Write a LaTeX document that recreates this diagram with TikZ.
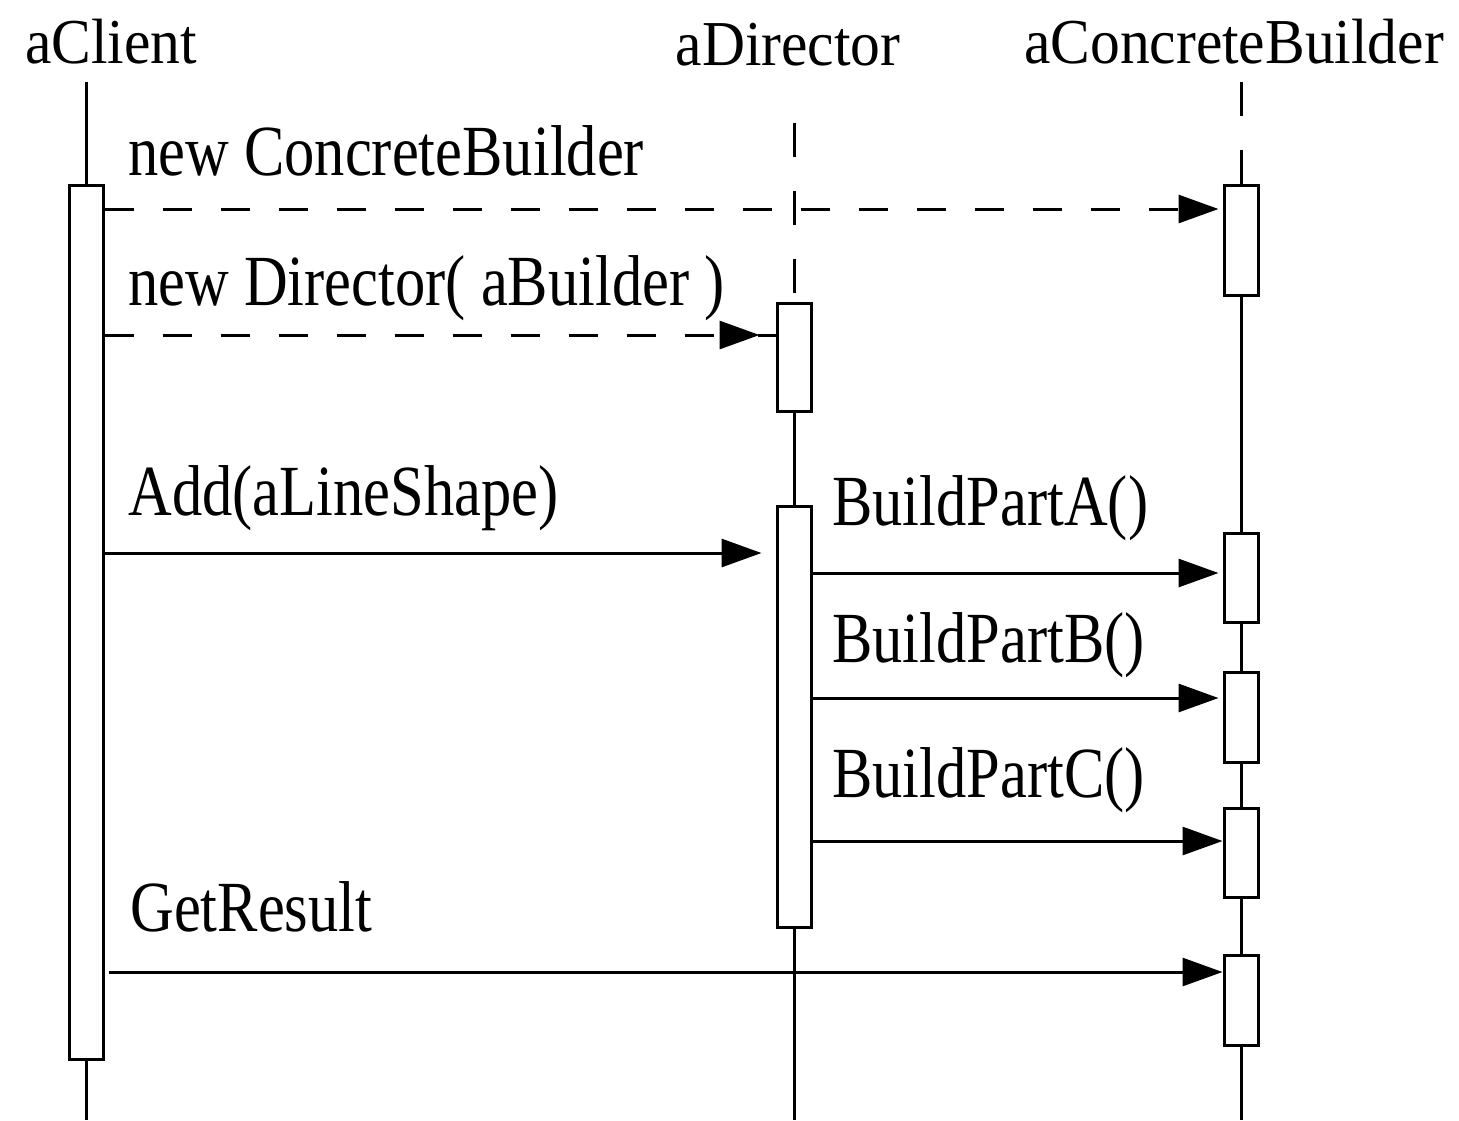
\documentclass[tikz,border=0pt]{standalone}
\usepackage{fontspec}
\setmainfont{Liberation Serif}
\newfontfamily\headfont{Liberation Serif}[FakeStretch=0.93]
\newfontfamily\msgfont{Liberation Serif}[FakeStretch=0.84]
\usepackage{tikz}
\usetikzlibrary{arrows.meta}
\tikzset{
  objname/.style = {inner sep=0pt, anchor=base,
    font=\headfont\fontsize{32pt}{36pt}\selectfont},        % object heading
  msgtext/.style = {inner sep=0pt, anchor=base west,
    font=\msgfont\fontsize{36pt}{40pt}\selectfont},         % message label
  lifeline/.style = {line width=1.5pt},
  lifedash/.style = {lifeline, dash pattern=on 17pt off 17pt},
  actbox/.style = {draw, fill=white, line width=1.5pt, rectangle,
    minimum width=17pt, inner sep=0pt},                     % activation bar
  call/.style = {line width=1.5pt, -{Triangle[length=20pt,width=14pt]}},
  calldash/.style = {call, dash pattern=on 14.5pt off 14.5pt}
}

\begin{document}
\begin{tikzpicture}[x=0.5pt,y=-0.5pt]
  \useasboundingbox (0,0) rectangle (1459,1120);

  % objects
  \node [objname] (client)  at (111,63)  {aClient};
  \node [objname] (director) at (788,65) {aDirector};
  \node [objname] (builder) at (1234,63) {aConcreteBuilder};

  \coordinate (clTop)  at (86,82);
  \coordinate (clEnd)  at (86,1120);
  \coordinate (dirTop) at (794,123);
  \coordinate (dirEnd) at (794,1120);
  \coordinate (cbTop)  at (1241,82);
  \coordinate (cbEnd)  at (1241,1120);

  % lifelines
  \draw [lifeline] (clTop) -- (clEnd);
  \draw [lifedash] (dirTop) -- (794,303);
  \draw [lifeline] (794,411) -- (dirEnd);
  \draw [lifedash] (cbTop) -- (1241,185);
  \draw [lifeline] (1241,295) -- (cbEnd);

  % activation bars
  \node [actbox, minimum height=437pt]   (clAct)   at (86,622)    {};
  \node [actbox, minimum height=54pt]    (dirAct1) at (794,357)   {};
  \node [actbox, minimum height=210.5pt] (dirAct2) at (794,716.5) {};
  \node [actbox, minimum height=55pt]    (cbAct1)  at (1241,240)  {};
  \node [actbox, minimum height=44.5pt]  (cbAct2)  at (1241,577.5) {};
  \node [actbox, minimum height=45pt]    (cbAct3)  at (1241,717)  {};
  \node [actbox, minimum height=44.5pt]  (cbAct4)  at (1241,852.5) {};
  \node [actbox, minimum height=45pt]    (cbAct5)  at (1241,1000) {};

  % messages
  \node [msgtext] (newCB)  at (128,175) {new ConcreteBuilder};
  \draw [calldash, shorten >=2pt] (clAct.east |- 0,209) -- (cbAct1.west |- 0,209);

  \node [msgtext] (newDir) at (128,305) {new Director( aBuilder )};
  \draw [calldash, shorten >=8pt] (clAct.east |- 0,335) -- (dirAct1.west |- 0,335);
  \draw [lifeline] (dirAct1.west |- 0,335) -- ++(-18,0);

  \node [msgtext] (addMsg) at (128,515) {Add(aLineShape)};
  \draw [call, shorten >=7pt] (clAct.east |- 0,553) -- (dirAct2.west |- 0,553);

  \node [msgtext] (partA) at (832,525) {BuildPartA()};
  \draw [call, shorten >=2pt] (dirAct2.east |- 0,573) -- (cbAct2.west |- 0,573);

  \node [msgtext] (partB) at (832,662) {BuildPartB()};
  \draw [call, shorten >=2pt] (dirAct2.east |- 0,698) -- (cbAct3.west |- 0,698);

  \node [msgtext] (partC) at (832,797) {BuildPartC()};
  \draw [call] (dirAct2.east |- 0,841) -- (cbAct4.west |- 0,841);

  \node [msgtext] (getRes) at (130,931) {GetResult};
  \draw [call, shorten <=2pt] (clAct.east |- 0,972) -- (cbAct5.west |- 0,972);
\end{tikzpicture}
\end{document}
